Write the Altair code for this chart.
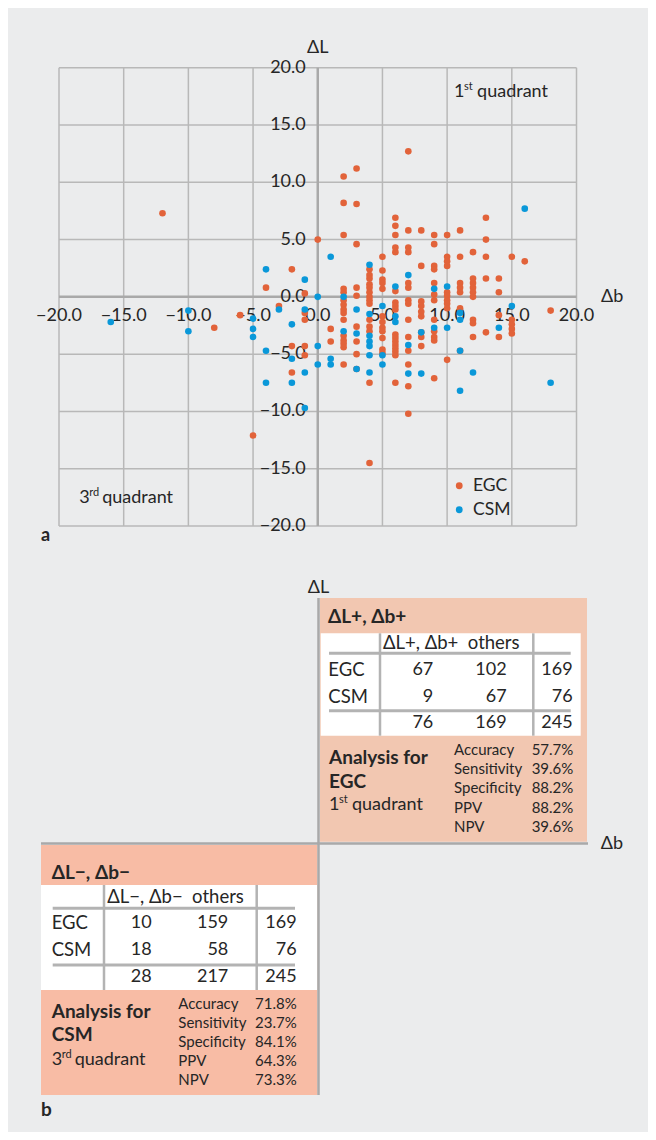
import altair as alt
import pandas as pd

FONT = "Lato"
TXT = "#262626"
ORANGE = "#e2633a"
BLUE = "#0a98d9"
BG = "#ebeced"
GRID = "#b8b8b8"
AXIS = "#a9a9a9"
PEACH1 = "#f2c7b1"
PEACH3 = "#f8bca5"
TLINE = "#b3b3b3"

# ---------------- panel a: scatter values (Δb, ΔL) ----------------
egc_db = [-12, -8, -6, -5, -4, -3, -2, -2, -2, -1, -1, -1, -1, -1, 0, 1, 1,
          2, 2, 2, 2, 2, 2, 2, 2, 2, 2, 2, 2, 2, 2, 2,
          3, 3, 3, 3, 3, 3, 3, 3, 3,
          4, 4, 4, 4, 4, 4, 4, 4, 4, 4, 4, 4, 4, 4,
          5, 5, 5, 5, 5, 5, 5, 5, 5, 5, 5, 5,
          6, 6, 6, 6, 6, 6, 6, 6, 6, 6, 6, 6, 6, 6, 6, 6, 6,
          7, 7, 7, 7, 7, 7, 7, 7, 7, 7, 7, 7, 7, 7,
          8, 8, 8, 8, 8, 8, 8, 8, 8,
          9, 9, 9, 9, 9, 9, 9, 9, 9, 9, 9, 9,
          10, 10, 10, 10, 10, 10, 10, 10, 10, 10,
          11, 11, 11, 11, 11, 11, 11,
          12, 12, 12, 12, 12, 12, 12, 12, 12,
          13, 13, 13, 13, 13,
          14, 14, 14, 14,
          15, 15, 15, 15, 15,
          16, 18]
egc_dl = [7.3, -2.7, -1.6, -12.1, 0.8, -0.8, 2.4, -4.3, -6.6, 0.3, -1.4, -2.0, -4.3, -5.1, 5.0, -2.8, -3.9,
          10.5, 8.2, 5.4, 0.7, 0.4, -0.3, -0.7, -1.1, -1.4, -2.0, -3.4, -3.8, -4.1, -4.4, -5.9,
          11.2, 8.1, 4.6, 0.8, 0.1, -2.6, -3.9, -5.0, -6.3,
          2.4, 1.9, 1.6, 1.1, 0.8, 0.4, 0.0, -0.3, -0.6, -2.0, -2.6, -3.0, -7.5, -14.5,
          3.5, 2.3, 1.5, 1.2, 0.7, -1.7, -2.2, -2.7, -3.0, -3.6, -4.6, -4.9,
          6.9, 6.2, 5.4, 4.3, 3.9, 0.5, -0.5, -0.8, -1.1, -3.3, -3.6, -3.9, -4.2, -4.5, -4.8, -5.1, -7.5,
          12.7, 5.8, 4.3, 3.9, 1.2, 0.8, -0.3, -0.6, -2.0, -3.5, -4.7, -5.9, -7.8, -10.2,
          5.8, 2.7, -0.4, -0.8, -1.3, -1.7, -3.1, -3.5, -4.3,
          5.4, 4.6, 2.7, 2.4, 1.2, 0.2, -0.3, -2.0, -3.0, -3.5, -3.8, -7.1,
          5.4, 3.5, 3.1, 2.7, 0.4, 0.1, -0.3, -0.6, -1.0, -5.5,
          5.8, 3.5, 1.2, 0.8, 0.4, -1.0, -4.7,
          3.9, 1.6, 1.2, 0.8, 0.4, 0.0, -2.0, -2.3, -3.5,
          6.9, 5.0, 3.5, 1.6, -3.1,
          1.6, 0.4, -1.6, -3.5,
          3.5, -2.0, -2.4, -2.8, -3.2,
          3.1, -1.2]

csm_db = [-16, -10, -10, -5, -5, -5, -4, -4, -4, -3, -2, -2, -2, -1, -1, -1, -1,
          0, 0, 0, 1, 1, 1, 2, 2, 3, 3, 3,
          4, 4, 4, 4, 4, 4, 4, 5, 5, 5, 6, 6, 6, 7, 7, 7, 8, 8,
          9, 9, 10, 10, 11, 11, 11, 11, 12, 14, 15, 16, 18]
csm_dl = [-2.2, -1.2, -3.0, -1.9, -2.8, -3.5, 2.4, -4.7, -7.5, -1.1, -2.4, -5.4, -7.5, 1.5, -1.1, -6.6, -9.7,
          0.0, -4.3, -5.9, 3.5, -5.4, -5.9, 0.0, -3.0, -1.1, -3.2, -6.3,
          2.8, -1.5, -3.4, -3.9, -4.3, -5.1, -6.6, -0.8, -5.1, -5.9, 0.9, -1.7, -2.2, 1.9, -4.2, -6.7, -3.1, -6.7,
          0.7, -2.7, 0.9, -2.7, -1.4, -2.0, -4.7, -8.2, -6.6, -2.7, -0.8, 7.7, -7.5]

groups = ["EGC", "CSM"]
grid_vals = [-20, -15, -10, -5, 0, 5, 10, 15, 20]

# ---------------- panel b: table contents ----------------
q1_head = "ΔL+, Δb+"
q1_cols = "ΔL+, Δb+\u00a0 others"
q1_rows = ["EGC", "CSM", ""]
q1_c1 = ["67", "9", "76"]
q1_c2 = ["102", "67", "169"]
q1_c3 = ["169", "76", "245"]
q1_metrics = ["Accuracy", "Sensitivity", "Specificity", "PPV", "NPV"]
q1_values = ["57.7%", "39.6%", "88.2%", "88.2%", "39.6%"]

q3_head = "ΔL−, Δb−"
q3_cols = "ΔL−, Δb−\u00a0 others"
q3_rows = ["EGC", "CSM", ""]
q3_c1 = ["10", "18", "28"]
q3_c2 = ["159", "58", "217"]
q3_c3 = ["169", "76", "245"]
q3_metrics = ["Accuracy", "Sensitivity", "Specificity", "PPV", "NPV"]
q3_values = ["71.8%", "23.7%", "84.1%", "64.3%", "73.3%"]

# ================= panel a =================
W, H = 640, 1124
xs = alt.Scale(domain=[-20, 20], range=[51, 568.5], nice=False, zero=False)
ys = alt.Scale(domain=[-20, 20], range=[518, 59.7], nice=False, zero=False)

df_grid = pd.DataFrame({"v": grid_vals, "lo": -20, "hi": 20, "z": 0})
vgrid = alt.Chart(df_grid).mark_rule(color=GRID, strokeWidth=1.5).encode(
    x=alt.X("v:Q", scale=xs, axis=None),
    y=alt.Y("lo:Q", scale=ys, axis=None), y2="hi:Q")
hgrid = alt.Chart(df_grid).mark_rule(color=GRID, strokeWidth=1.5).encode(
    y=alt.Y("v:Q", scale=ys, axis=None),
    x=alt.X("lo:Q", scale=xs, axis=None), x2="hi:Q")

df_zero = pd.DataFrame({"z": [0], "lo": [-20], "hi": [20]})
zx = alt.Chart(df_zero).mark_rule(color=AXIS, strokeWidth=2.5).encode(
    x=alt.X("z:Q", scale=xs, axis=None), y=alt.Y("lo:Q", scale=ys, axis=None), y2="hi:Q")
zy = alt.Chart(df_zero).mark_rule(color=AXIS, strokeWidth=2.5).encode(
    y=alt.Y("z:Q", scale=ys, axis=None), x=alt.X("lo:Q", scale=xs, axis=None), x2="hi:Q")

# tick labels sit along the zero lines
xlab = alt.Chart(df_grid).mark_text(font=FONT, fontSize=18, color=TXT, align="center",
                                    baseline="middle", dy=19).encode(
    x=alt.X("v:Q", scale=xs, axis=None), y=alt.Y("z:Q", scale=ys, axis=None),
    text=alt.Text("v:Q", format=".1f"))
ylab = alt.Chart(df_grid).mark_text(font=FONT, fontSize=18, color=TXT, align="right",
                                    baseline="middle", dx=-12).encode(
    x=alt.X("z:Q", scale=xs, axis=None), y=alt.Y("v:Q", scale=ys, axis=None),
    text=alt.Text("v:Q", format=".1f"))

df_pts = pd.DataFrame({
    "db": egc_db + csm_db,
    "dl": egc_dl + csm_dl,
    "grp": [groups[0]] * len(egc_db) + [groups[1]] * len(csm_db),
})
pts = alt.Chart(df_pts).mark_circle(size=44, opacity=1).encode(
    x=alt.X("db:Q", scale=xs, axis=None),
    y=alt.Y("dl:Q", scale=ys, axis=None),
    color=alt.Color("grp:N", scale=alt.Scale(domain=groups, range=[ORANGE, BLUE]),
                    legend=alt.Legend(orient="none", legendX=442.5, legendY=469, title=None,
                                      labelFont=FONT, labelFontSize=17.5, labelColor=TXT,
                                      symbolType="circle", symbolSize=46, symbolStrokeWidth=0,
                                      rowPadding=5, padding=0, labelOffset=5)),
)

df_names = pd.DataFrame({"x": [0, 22.76], "y": [21.7, 0], "t": ["ΔL", "Δb"]})
names = alt.Chart(df_names).mark_text(font=FONT, fontSize=18, color=TXT, align="center",
                                      baseline="middle").encode(
    x=alt.X("x:Q", scale=xs, axis=None), y=alt.Y("y:Q", scale=ys, axis=None), text="t:N")
df_a = pd.DataFrame({"x": [-21.4], "y": [-20.9], "t": ["a"]})
letter_a = alt.Chart(df_a).mark_text(font=FONT, fontSize=18, fontWeight="bold", color=TXT,
                                     align="left", baseline="middle").encode(
    x=alt.X("x:Q", scale=xs, axis=None), y=alt.Y("y:Q", scale=ys, axis=None), text="t:N")


def sup_label(df, xsc, ysc, size, sup_size, dx_sup, dx_rest):
    base = alt.Chart(df).encode(x=alt.X("x:Q", scale=xsc, axis=None),
                                y=alt.Y("y:Q", scale=ysc, axis=None))
    kw = dict(font=FONT, color=TXT, align="left", baseline="middle")
    return [
        base.mark_text(fontSize=size, **kw).encode(text="first:N"),
        base.mark_text(fontSize=sup_size, dx=dx_sup, dy=-5, **kw).encode(text="sup:N"),
        base.mark_text(fontSize=size, dx=dx_rest, **kw).encode(text="rest:N"),
    ]


df_quad_a = pd.DataFrame({"x": [10.54, -18.44], "y": [17.9, -17.57],
                          "first": ["1", "3"], "sup": ["st", "rd"],
                          "rest": ["quadrant", "quadrant"]})
quad_a = sup_label(df_quad_a, xs, ys, 18, 11, 10, 23)

panel_a = alt.layer(vgrid, hgrid, zx, zy, xlab, ylab, pts, names, letter_a, *quad_a)

# ================= panel b (schematic quadrant diagram) =================
OX, OY = 318.5, 843.5  # crossing of the ΔL / Δb axes on the page
bx = alt.Scale(domain=[-OX + 8, W + 8 - OX], range=[0, W], nice=False, zero=False)
by = alt.Scale(domain=[OY - H - 8, OY - 8], range=[H, 0], nice=False, zero=False)


def lx(v):
    return v - OX


def ly(v):
    return OY - v


rects = pd.DataFrame({
    "x": [lx(320), lx(41), lx(320.7), lx(41)],
    "x2": [lx(587), lx(317.3), lx(580.7), lx(317)],
    "y": [ly(598), ly(845), ly(633.3), ly(885)],
    "y2": [ly(841.7), ly(1095), ly(735.7), ly(990)],
    "fill": [PEACH1, PEACH3, "#ffffff", "#ffffff"],
})
rect_layer = alt.Chart(rects).mark_rect().encode(
    x=alt.X("x:Q", scale=bx, axis=None), x2="x2:Q",
    y=alt.Y("y:Q", scale=by, axis=None), y2="y2:Q",
    color=alt.Color("fill:N", scale=None))

lines = pd.DataFrame({
    "x": [lx(318.5), lx(41), lx(329), lx(329), lx(380), lx(533.3), lx(52.7), lx(52.7), lx(104), lx(256.7)],
    "x2": [lx(318.5), lx(588), lx(570.7), lx(570.7), lx(380), lx(533.3), lx(295), lx(295), lx(104), lx(256.7)],
    "y": [ly(598), ly(843.5), ly(653.3), ly(710.7), ly(633.3), ly(633.3), ly(908.3), ly(965), ly(885), ly(885)],
    "y2": [ly(1095), ly(843.5), ly(653.3), ly(710.7), ly(735.7), ly(735.7), ly(908.3), ly(965), ly(990), ly(990)],
    "c": [AXIS, AXIS] + [TLINE] * 8,
    "w": [2.5, 2.5, 3, 3, 2.5, 2.5, 3, 3, 2.5, 2.5],
})
line_layer = alt.Chart(lines).mark_rule().encode(
    x=alt.X("x:Q", scale=bx, axis=None), x2="x2:Q",
    y=alt.Y("y:Q", scale=by, axis=None), y2="y2:Q",
    color=alt.Color("c:N", scale=None), strokeWidth=alt.StrokeWidth("w:Q", scale=None))


def text_layer(rows, size, align, weight="normal"):
    df = pd.DataFrame(rows, columns=["x", "y", "t"])
    return alt.Chart(df).mark_text(font=FONT, fontSize=size, color=TXT, align=align,
                                   baseline="middle", fontWeight=weight).encode(
        x=alt.X("x:Q", scale=bx, axis=None), y=alt.Y("y:Q", scale=by, axis=None), text="t:N")


row_y1 = [670, 696.7, 723.3]
row_y3 = [923.3, 950, 976.7]
met_y1 = [750, 769.3, 788.3, 808.3, 826.7]
met_y3 = [1004.3, 1023.3, 1041.7, 1060.7, 1080]

bold_rows = [
    (lx(328), ly(616.7), q1_head), (lx(51.7), ly(873.3), q3_head),
    (lx(329), ly(758.3), "Analysis for"), (lx(329), ly(781.7), groups[0]),
    (lx(51.7), ly(1011.7), "Analysis for"), (lx(51.7), ly(1035), groups[1]),
    (lx(41), ly(1110), "b"),
]
reg_left = [(lx(383), ly(643.3), q1_cols), (lx(107.3), ly(897.3), q3_cols)]
reg_left += [(lx(328.3), ly(y), t) for y, t in zip(row_y1, q1_rows) if t]
reg_left += [(lx(51.7), ly(y), t) for y, t in zip(row_y3, q3_rows) if t]
reg_center = [(lx(318.5), ly(588.3), "ΔL"), (lx(612), ly(843.5), "Δb")]
num_right = []
for xr, col in zip([433.3, 506.7, 572.7], [q1_c1, q1_c2, q1_c3]):
    num_right += [(lx(xr), ly(y), t) for y, t in zip(row_y1, col)]
for xr, col in zip([151.7, 228.3, 296.7], [q3_c1, q3_c2, q3_c3]):
    num_right += [(lx(xr), ly(y), t) for y, t in zip(row_y3, col)]
small_left = [(lx(454), ly(y), t) for y, t in zip(met_y1, q1_metrics)]
small_left += [(lx(178.3), ly(y), t) for y, t in zip(met_y3, q3_metrics)]
small_right = [(lx(573.3), ly(y), t) for y, t in zip(met_y1, q1_values)]
small_right += [(lx(296.7), ly(y), t) for y, t in zip(met_y3, q3_values)]

df_quad_b = pd.DataFrame({"x": [lx(329), lx(51.7)], "y": [ly(805), ly(1060)],
                          "first": ["1", "3"], "sup": ["st", "rd"],
                          "rest": ["quadrant", "quadrant"]})
quad_b = sup_label(df_quad_b, bx, by, 18, 11, 10, 23)

panel_b = alt.layer(
    rect_layer, line_layer,
    text_layer(bold_rows, 19, "left", "bold"),
    text_layer(reg_left, 18.5, "left"),
    text_layer(reg_center, 18, "center"),
    text_layer(num_right, 18, "right"),
    text_layer(small_left, 15, "left"),
    text_layer(small_right, 15, "right"),
    *quad_b,
)

chart = alt.layer(panel_a, panel_b).resolve_scale(
    x="independent", y="independent", color="independent"
).properties(
    width=W, height=H, padding=0,
    autosize=alt.AutoSizeParams(type="none"),
).configure(background=BG).configure_view(stroke=None)

chart.save("out.html", embed_options={"renderer": "svg", "actions": False})
